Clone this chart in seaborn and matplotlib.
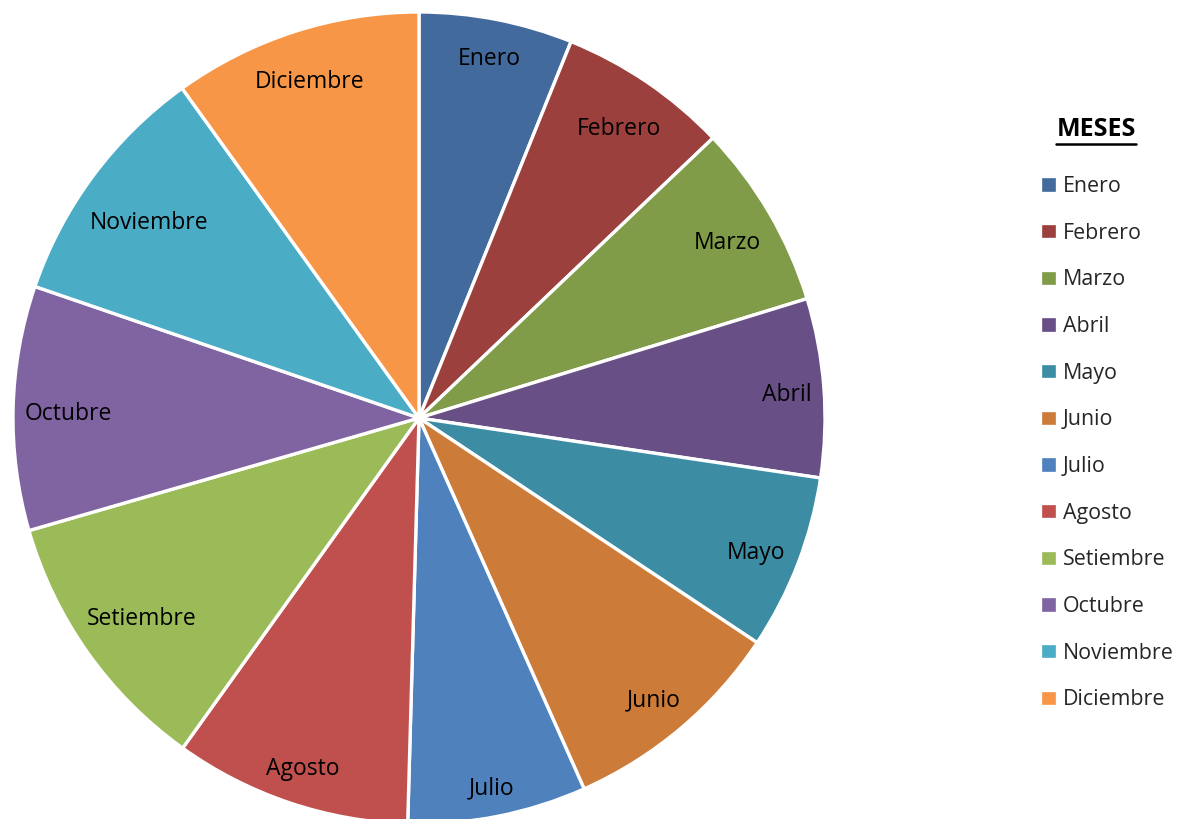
import numpy as np
import matplotlib
matplotlib.use('Agg')
import matplotlib.pyplot as plt
import seaborn as sns
from matplotlib.lines import Line2D

# data (slice sizes in degrees of the circle)
meses = ['Enero', 'Febrero', 'Marzo', 'Abril', 'Mayo', 'Junio',
         'Julio', 'Agosto', 'Setiembre', 'Octubre', 'Noviembre', 'Diciembre']
valores = [22.0, 24.4, 26.5, 25.6, 25.1, 32.4, 25.6, 34.0, 38.3, 35.0, 35.4, 35.7]
colores = ['#426A9C', '#9C403E', '#809C49', '#684F85', '#3C8DA4', '#CC7B38',
           '#4F81BD', '#C0504D', '#9BBB59', '#8064A2', '#4BACC6', '#F79646']

sns.set_theme(style='white')
plt.rcParams['font.family'] = ['Open Sans', 'DejaVu Sans']

W, H = 1177, 819
fig = plt.figure(figsize=(W / 100, H / 100), dpi=100)
fig.patch.set_facecolor('white')

# pie geometry in pixels
R_px = 406
cx, cy = 419, H - 418
ax = fig.add_axes([(cx - R_px) / W, (cy - R_px) / H, 2 * R_px / W, 2 * R_px / H])

wedges, _ = ax.pie(valores, colors=colores, startangle=90, counterclock=False,
                   radius=1.0, labels=None,
                   wedgeprops=dict(edgecolor='white', linewidth=2.4))
ax.set_xlim(-1, 1)
ax.set_ylim(-1, 1)
ax.axis('off')

# labels "inside end": push each label out along the bisector until its box meets the rim
fig.canvas.draw()
renderer = fig.canvas.get_renderer()
R_lab = 395 / R_px
hh = 18 / R_px
dy = -5 / R_px
for w, name in zip(wedges, meses):
    theta = np.deg2rad((w.theta1 + w.theta2) / 2)
    c, s = np.cos(theta), np.sin(theta)
    t = ax.text(0, 0, name, ha='center', va='center', fontsize=16.5, color='black')
    bb = t.get_window_extent(renderer)
    hw = bb.width / 2 / R_px
    a = np.sign(c) * hw
    b = np.sign(s) * hh
    k = c * a + s * b
    d = -k + np.sqrt(k * k - (a * a + b * b - R_lab ** 2))
    t.set_position((d * c, d * s + dy))

# legend
leg = fig.legend(handles=wedges, labels=meses, loc='upper left',
                 bbox_to_anchor=(1040 / W, 1 - 176 / H), frameon=False,
                 fontsize=15.4, handlelength=0.8, handleheight=0.8,
                 handletextpad=0.28, labelspacing=1.2, borderpad=0, borderaxespad=0)

# legend title, bold and underlined
title = fig.text(1096 / W, 1 - 130 / H, 'MESES', ha='center', va='center',
                 fontsize=18, fontweight='bold', color='black')
fig.canvas.draw()
tb = title.get_window_extent(fig.canvas.get_renderer())
fig.add_artist(Line2D([tb.x0 / W, tb.x1 / W], [(tb.y0 - 1) / H, (tb.y0 - 1) / H],
                      transform=fig.transFigure, color='black', linewidth=1.8))

fig.savefig('out.png', dpi=100, facecolor='white')
